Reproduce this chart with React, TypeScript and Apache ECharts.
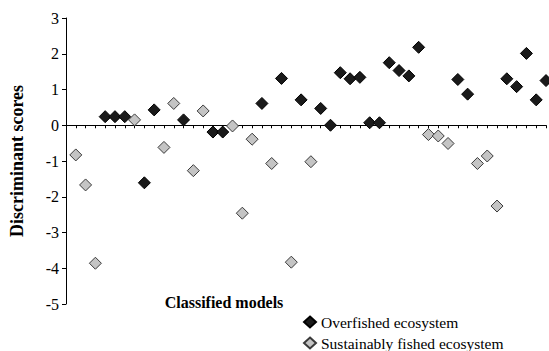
import React, { useEffect, useRef } from "react";
import * as echarts from "echarts";

const overfishedModels = [4, 5, 6, 8, 9, 12, 15, 16, 20, 22, 24, 26, 27, 28, 29, 30, 31, 32, 33, 34, 35, 36, 40, 41, 45, 46, 47, 48, 49];
const overfishedScores = [0.24, 0.24, 0.24, -1.61, 0.43, 0.15, -0.19, -0.19, 0.61, 1.31, 0.71, 0.47, 0.0, 1.47, 1.3, 1.34, 0.07, 0.07, 1.75, 1.53, 1.38, 2.18, 1.28, 0.87, 1.3, 1.08, 2.01, 0.71, 1.25];
const sustainableModels = [1, 2, 3, 7, 10, 11, 13, 14, 17, 18, 19, 21, 23, 25, 37, 38, 39, 42, 43, 44];
const sustainableScores = [-0.83, -1.67, -3.86, 0.15, -0.62, 0.61, -1.27, 0.4, -0.02, -2.46, -0.39, -1.07, -3.83, -1.02, -0.26, -0.3, -0.51, -1.07, -0.86, -2.26];
const yTicks = [-5, -4, -3, -2, -1, 0, 1, 2, 3];
const seriesNames = ["Overfished ecosystem", "Sustainably fished ecosystem"];
const xTitle = "Classified models";
const yTitle = "Discriminant scores";

const serif = "Liberation Serif";

export default function App() {
  const ref = useRef<HTMLDivElement>(null);
  useEffect(() => {
    if (!ref.current) return;
    const chart = echarts.init(ref.current, null, { renderer: "svg" });
    const over = overfishedModels.map((m, i) => [m, overfishedScores[i]]);
    const sust = sustainableModels.map((m, i) => [m, sustainableScores[i]]);
    const legendBase = {
      orient: "horizontal",
      left: 303,
      itemWidth: 12,
      itemHeight: 11,
      itemGap: 7,
      padding: 0,
      textStyle: { fontFamily: serif, fontSize: 15.5, lineHeight: 12, color: "#000" },
    };
    chart.setOption({
      animation: false,
      backgroundColor: "#fff",
      grid: { left: 66, right: 3, top: 18, bottom: 47, containLabel: false },
      xAxis: {
        type: "value",
        min: 0,
        max: 49,
        interval: 1,
        axisLine: { onZero: true, lineStyle: { color: "#000", width: 1 } },
        axisTick: { show: true, length: 3, lineStyle: { color: "#000" } },
        axisLabel: { show: false },
        splitLine: { show: false },
      },
      yAxis: {
        type: "value",
        min: yTicks[0],
        max: yTicks[yTicks.length - 1],
        interval: 1,
        name: yTitle,
        nameLocation: "middle",
        nameGap: 40,
        nameRotate: 90,
        nameTextStyle: { fontFamily: serif, fontWeight: "bold", fontSize: 18, color: "#000" },
        axisLine: { show: true, onZero: false, lineStyle: { color: "#000", width: 1 } },
        axisTick: { show: true, length: 4, lineStyle: { color: "#000" } },
        axisLabel: { fontFamily: serif, fontSize: 16, color: "#000", margin: 7 },
        splitLine: { show: false },
      },
      legend: [
        { ...legendBase, top: 314, data: [seriesNames[0]] },
        { ...legendBase, top: 335, data: [seriesNames[1]] },
      ],
      graphic: [
        {
          type: "text",
          x: 224,
          y: 302,
          style: {
            text: xTitle,
            font: `bold 16px ${serif}`,
            fill: "#000",
            textAlign: "center",
            textVerticalAlign: "middle",
          },
        },
      ],
      series: [
        {
          name: seriesNames[0],
          type: "scatter",
          symbol: "diamond",
          symbolSize: 12,
          itemStyle: { color: "#1a1a1a", borderColor: "#000", borderWidth: 1, opacity: 1 },
          data: over,
          z: 3,
        },
        {
          name: seriesNames[1],
          type: "scatter",
          symbol: "diamond",
          symbolSize: 12,
          itemStyle: { color: "#c4c4c4", borderColor: "#3a3a3a", borderWidth: 1, opacity: 1 },
          data: sust,
          z: 2,
        },
      ],
    });
    return () => chart.dispose();
  }, []);
  return <div ref={ref} style={{ width: 549, height: 351, position: "absolute", left: 0, top: 0 }} />;
}
